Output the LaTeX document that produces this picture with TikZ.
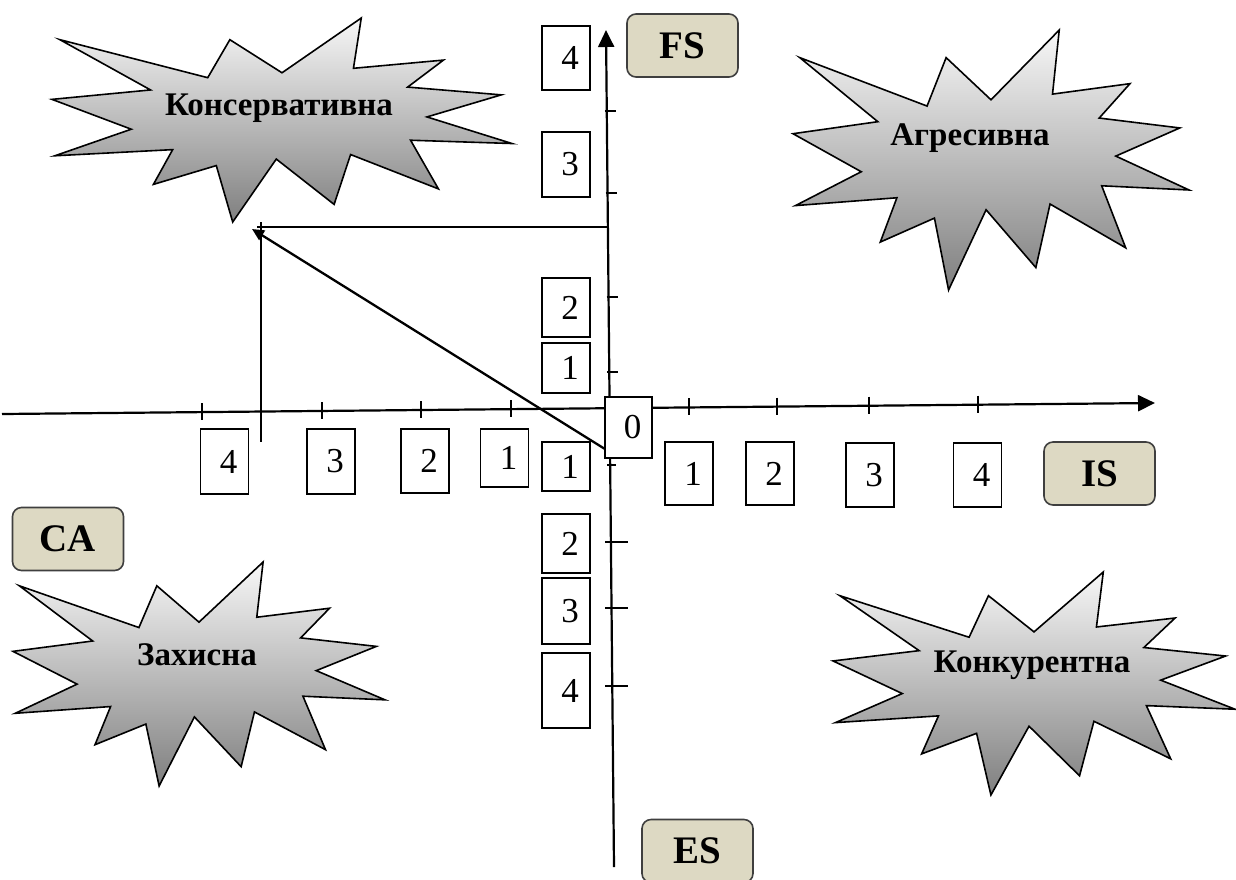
\documentclass[tikz,border=0pt]{standalone}
\usepackage{fontspec}
\setmainfont{Liberation Serif}
\usetikzlibrary{arrows.meta}
\definecolor{labelfill}{HTML}{DDD9C3}
\definecolor{labeldraw}{HTML}{3F3F3F}
\tikzset{
  numbox/.style={draw=black, line width=1.3pt, fill=white, minimum width=48pt, inner sep=0pt, font=\fontsize{35}{35}\selectfont},
  axislabel/.style={draw=labeldraw, line width=1.6pt, fill=labelfill, rounded corners=9pt, minimum width=111pt, minimum height=63pt, inner sep=0pt, font=\bfseries\fontsize{39}{39}\selectfont},
  sealtext/.style={font=\bfseries\fontsize{33}{33}\selectfont, text=black, inner sep=0pt},
  sealshape/.style={draw=black, line width=1.6pt, top color=white!97!black, bottom color=black!50},
  axisline/.style={line width=2.2pt, -{Triangle[length=17pt,width=16pt]}},
  tickline/.style={line width=1.5pt},
  projline/.style={line width=1.4pt},
  mainarrow/.style={line width=2.3pt, -{Triangle[length=12pt,width=11pt]}},
}
\newcommand\numtxt[1]{\hspace*{8pt}#1}
\newcommand\burstshape[4]{%
  \begin{scope}[shift={(#1,#2)}, xscale=#3/216, yscale=#4/216]
    \path[sealshape] (108,58) -- (145.22,0) -- (141.55,53.25) -- (183.80,44.57) -- (167.02,73.15)
      -- (210.97,81.37) -- (176.07,104.75) -- (216,132.90) -- (168.37,129.42) -- (181.45,180.95)
      -- (140.20,144.57) -- (132.47,197.37) -- (105.32,149.35) -- (84.85,216) -- (77.15,156.27)
      -- (47.62,176.17) -- (56.67,139.37) -- (1.35,145.87) -- (37.22,117.75) -- (0,86.15)
      -- (46.27,76.17) -- (3.70,22.95) -- (73.12,63.20) -- (83.52,22.95) -- cycle;
  \end{scope}}
\begin{document}
\begin{tikzpicture}[x=1pt,y=-1pt]
\useasboundingbox (0,0) rectangle (1236,879);

% starbursts
\burstshape{52}{18}{460}{204}
\burstshape{793}{30}{396}{260}
\burstshape{13}{562}{372}{224}
\burstshape{833}{572}{402}{223}
\node[sealtext] (cons) at (279,108) {Консервативна};
\node[sealtext] (agr) at (970,138) {Агресивна};
\node[sealtext] (zakh) at (197,655) {Захисна};
\node[sealtext] (konk) at (1032,665) {Конкурентна};

% axes
\coordinate (xL) at (2,414);
\coordinate (xR) at (1155,403);
\coordinate (yB) at (614,867);
\coordinate (yT) at (606,30);
\draw[axisline] (xL) -- (xR);
\draw[axisline] (yB) -- (yT);

% ticks on horizontal axis
\foreach \x/\y in {202/412.1,322/411,421/410,511/409.1,689/407.4,777/406.6,869/405.7,978/404.7}
  \draw[tickline] (\x,\y-9) -- (\x,\y+8);
% ticks on vertical axis
\foreach \y/\x in {111/606.8,193/607.6,297/608.6,372/609.3}
  \draw[tickline] (\x-2,\y) -- (\x+9,\y);
\draw[tickline] (607,465) -- (616,465);
\foreach \y in {542,608,686}
  \draw[tickline] (605,\y) -- (628,\y);

% projection lines and vector
\coordinate (PY) at (607.7,227);
\coordinate (PX) at (257,227);
\coordinate (PT) at (261,222);
\coordinate (PB) at (261,442);
\coordinate (P) at (252,229);
\draw[projline] (PY) -- (PX);
\draw[projline] (PT) -- (PB);

% number boxes, vertical axis
\node[numbox, minimum height=64pt] (v4) at (566,58) {\numtxt{4}};
\node[numbox, minimum height=65pt] (v3) at (566,164.5) {\numtxt{3}};
\node[numbox, minimum height=59pt] (v2) at (566,307.5) {\numtxt{2}};
\node[numbox, minimum height=50pt] (v1) at (566,368) {\numtxt{1}};
\node[numbox, minimum height=49pt] (w1) at (566,466.5) {\numtxt{1}};
\node[numbox, minimum height=59pt] (w2) at (566,543.5) {\numtxt{2}};
\node[numbox, minimum height=66pt] (w3) at (566,611) {\numtxt{3}};
\node[numbox, minimum height=75pt] (w4) at (566,690.5) {\numtxt{4}};
% number boxes, horizontal axis
\node[numbox, minimum height=65pt] (h4) at (224.5,461.5) {\numtxt{4}};
\node[numbox, minimum height=65pt] (h3) at (331,461.5) {\numtxt{3}};
\node[numbox, minimum height=64pt] (h2) at (425,461) {\numtxt{2}};
\node[numbox, minimum height=58pt] (h1) at (504.5,458) {\numtxt{1}};
\node[numbox, minimum height=63pt] (r1) at (689,473.5) {\numtxt{1}};
\node[numbox, minimum height=63pt] (r2) at (770,473.5) {\numtxt{2}};
\node[numbox, minimum height=64pt] (r3) at (870,475) {\numtxt{3}};
\node[numbox, minimum height=64pt] (r4) at (977.5,475) {\numtxt{4}};
\node[numbox, minimum width=47pt, minimum height=61pt] (zero) at (628.5,427.5) {\numtxt{0}};

\draw[mainarrow] ([yshift=10pt]zero.south west) -- (P);

% axis labels
\node[axislabel] (FS) at (682.5,45.5) {FS};
\node[axislabel] (IS) at (1099.5,473.5) {IS};
\node[axislabel] (CA) at (68,539) {CA};
\node[axislabel] (ES) at (697.5,851) {ES};
\end{tikzpicture}
\end{document}
